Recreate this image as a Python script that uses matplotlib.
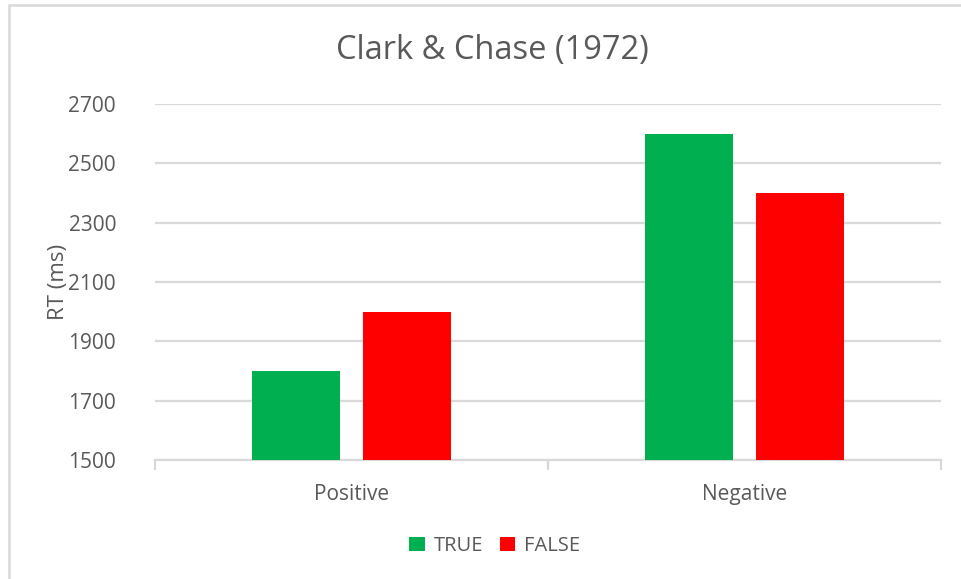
import matplotlib.pyplot as plt
from matplotlib.patches import Rectangle
import numpy as np

# 数据
categories = ["Positive", "Negative"]
true_rt = [1800, 2600]
false_rt = [2000, 2400]
series_names = ["TRUE", "FALSE"]
y_ticks = [1500, 1700, 1900, 2100, 2300, 2500, 2700]

plt.rcParams['font.family'] = ['Open Sans', 'DejaVu Sans']
text_color = '#595959'
grid_color = '#D9D9D9'

W, H = 961, 579
fig = plt.figure(figsize=(W / 100, H / 100), dpi=100)
fig.patch.set_facecolor('white')

# 图表外框（只有左边和上边可见）
fig.patches.append(Rectangle((9 / W, -0.1), 1.2, 1.1 - 5 / H, transform=fig.transFigure,
                             fill=False, edgecolor=grid_color, linewidth=1.8))

ax = fig.add_axes([155 / W, (H - 460) / H, (941 - 155) / W, (460 - 104) / H])

x = np.arange(len(categories))
width = 0.226
offset = 0.141
ax.bar(x - offset, [v - 1500 for v in true_rt], width, bottom=1500, color='#00B050',
       label=series_names[0], zorder=3)
ax.bar(x + offset, [v - 1500 for v in false_rt], width, bottom=1500, color='#FF0000',
       label=series_names[1], zorder=3)

ax.set_xlim(-0.5, len(categories) - 0.5)
ax.set_ylim(1500, 2700)
ax.set_yticks(y_ticks)
ax.set_yticklabels([str(t) for t in y_ticks])
ax.yaxis.grid(True, color=grid_color, linewidth=1.6, zorder=0)
ax.tick_params(axis='y', length=0, pad=28, labelsize=15, labelcolor=text_color)

# x 轴：类别标签在中间，刻度在分隔处
ax.set_xticks(x)
ax.set_xticklabels(categories)
ax.set_xticks([-0.5, 0.5, 1.5], minor=True)
ax.tick_params(axis='x', which='major', length=0, pad=17, labelsize=15, labelcolor=text_color)
ax.tick_params(axis='x', which='minor', length=7, width=1.6, color=grid_color)

for side in ['top', 'right', 'left']:
    ax.spines[side].set_visible(False)
ax.spines['bottom'].set_color(grid_color)
ax.spines['bottom'].set_linewidth(1.6)

ax.set_ylabel("RT (ms)", fontsize=16, color=text_color)
ax.yaxis.set_label_coords(-0.109, 0.5)

fig.text(492 / W, 1 - 51 / H, "Clark & Chase (1972)", ha='center', va='center',
         fontsize=23.5, color=text_color)

leg = fig.legend(loc='center', bbox_to_anchor=(495 / W, 1 - 546 / H), ncol=2, frameon=False,
                 handlelength=0.75, handleheight=0.75, handletextpad=0.45, columnspacing=0.85,
                 fontsize=14.5)
for t in leg.get_texts():
    t.set_color(text_color)

fig.savefig("out.png", dpi=100)
